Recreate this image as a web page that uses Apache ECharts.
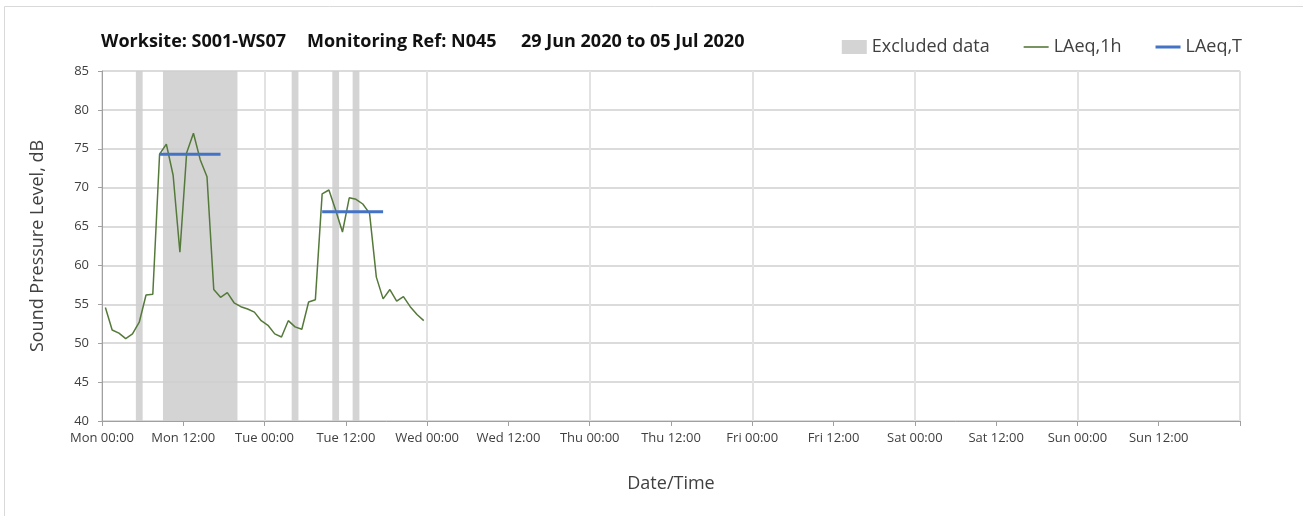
<!DOCTYPE html>
<html>
<head>
<meta charset="utf-8">
<script src="https://cdn.jsdelivr.net/npm/echarts@6/dist/echarts.min.js"></script>
<style>
  html, body { margin: 0; padding: 0; background: #fff; }
  #chart { width: 1303px; height: 516px; }
</style>
</head>
<body>
<div id="chart"></div>
<script>
// hourly LAeq,1h values, one per hour starting Mon 00:00 (plotted mid-hour)
const laeq1h = [
  54.6, 51.7, 51.3, 50.6, 51.2, 52.7, 56.2, 56.3,
  74.3, 75.6, 71.6, 61.7, 74.5, 77.0, 73.6, 71.4,
  56.9, 55.9, 56.5, 55.2, 54.7, 54.4, 54.0, 52.9,
  52.3, 51.2, 50.8, 52.9, 52.1, 51.8, 55.3, 55.6,
  69.2, 69.7, 67.1, 64.3, 68.7, 68.5, 67.9, 66.7,
  58.5, 55.7, 56.9, 55.4, 56.0, 54.7, 53.7, 52.9
];

// LAeq,T periods (hours from Mon 00:00)
const ltFrom = [8.5, 32.5];
const ltTo = [17.5, 41.5];
const ltValue = [74.3, 66.9];

// excluded data periods (hours from Mon 00:00)
const exclFrom = [5, 9, 28, 34, 37];
const exclTo = [6, 20, 29, 35, 38];

const tickLabels = [
  "Mon 00:00", "Mon 12:00", "Tue 00:00", "Tue 12:00", "Wed 00:00", "Wed 12:00",
  "Thu 00:00", "Thu 12:00", "Fri 00:00", "Fri 12:00", "Sat 00:00", "Sat 12:00",
  "Sun 00:00", "Sun 12:00"
];

const font = "'Open Sans', 'DejaVu Sans', sans-serif";
const chart = echarts.init(document.getElementById("chart"));

const ltData = [];
ltFrom.forEach((f, i) => {
  if (i > 0) ltData.push([null, null]);
  ltData.push([f, ltValue[i]], [ltTo[i], ltValue[i]]);
});

// legend line icons: thin bar centred in a 25x14 box
const thinLine = "path://M0,0 M0,6.2 L25,6.2 L25,7.8 L0,7.8 Z M25,14";
const thickLine = "path://M0,0 M0,5.5 L25,5.5 L25,8.5 L0,8.5 Z M25,14";

const option = {
  animation: false,
  textStyle: { fontFamily: font },
  graphic: [{
    type: "rect",
    shape: { x: 4.5, y: 6.5, width: 1400, height: 600 },
    style: { fill: "none", stroke: "#d9d9d9", lineWidth: 1 },
    silent: true
  }],
  title: [
    { text: "Worksite: S001-WS07", left: 101, top: 33 },
    { text: "Monitoring Ref: N045", left: 307, top: 33 },
    { text: "29 Jun 2020 to 05 Jul 2020", left: 521, top: 33 }
  ].map(t => ({
    ...t,
    padding: 0,
    textStyle: { fontFamily: font, fontSize: 18, fontWeight: "bold", color: "#111" }
  })),
  legend: {
    right: 56,
    top: 33,
    itemWidth: 25,
    itemHeight: 14,
    itemGap: 34,
    textStyle: { fontFamily: font, fontSize: 18, color: "#404040" },
    data: [
      { name: "Excluded data", icon: "rect" },
      { name: "LAeq,1h", icon: thinLine },
      { name: "LAeq,T", icon: thickLine }
    ]
  },
  grid: { left: 102, right: 63, top: 71, bottom: 95 },
  xAxis: [
    {
      type: "value",
      min: 0,
      max: 168,
      interval: 12,
      z: 1,
      name: "Date/Time",
      nameLocation: "middle",
      nameGap: 54,
      nameTextStyle: { fontFamily: font, fontSize: 18, color: "#404040" },
      axisLine: { onZero: false, lineStyle: { color: "#a0a0a0", width: 1 } },
      axisTick: { show: true, length: 5, lineStyle: { color: "#a0a0a0" } },
      axisLabel: {
        margin: 11,
        fontSize: 13,
        color: "#404040",
        formatter: v => tickLabels[Math.round(v / 12)] || ""
      },
      splitLine: { show: false }
    },
    {
      type: "value",
      min: 0,
      max: 168,
      interval: 24,
      z: 1,
      position: "bottom",
      axisLine: { show: false },
      axisTick: { show: false },
      axisLabel: { show: false },
      splitLine: { show: true, lineStyle: { color: "#e2e2e2", width: 2 } }
    }
  ],
  yAxis: {
    type: "value",
    min: 40,
    max: 85,
    interval: 5,
    z: 1,
    name: "Sound Pressure Level, dB",
    nameLocation: "middle",
    nameGap: 55,
    nameTextStyle: { fontFamily: font, fontSize: 18, color: "#404040" },
    axisLine: { show: true, lineStyle: { color: "#a0a0a0", width: 1 } },
    axisTick: { show: true, length: 4, lineStyle: { color: "#a0a0a0" } },
    axisLabel: { margin: 13, fontSize: 13, color: "#404040" },
    splitLine: { lineStyle: { color: "#cfcfcf", width: 1.5 } }
  },
  series: [
    {
      name: "Excluded data",
      type: "line",
      z: 0,
      data: [],
      itemStyle: { color: "#d4d4d4" },
      lineStyle: { color: "#d4d4d4" },
      markArea: {
        silent: true,
        z: 0,
        itemStyle: { color: "#d4d4d4" },
        data: exclFrom.map((f, i) => [{ xAxis: f }, { xAxis: exclTo[i] }])
      }
    },
    {
      name: "LAeq,1h",
      type: "line",
      z: 3,
      symbol: "none",
      itemStyle: { color: "#55793a" },
      lineStyle: { color: "#55793a", width: 1.5 },
      data: laeq1h.map((v, i) => [i + 0.5, v])
    },
    {
      name: "LAeq,T",
      type: "line",
      z: 4,
      symbol: "none",
      connectNulls: false,
      itemStyle: { color: "#4472c4" },
      lineStyle: { color: "#4472c4", width: 3 },
      data: ltData
    }
  ]
};

chart.setOption(option);
</script>
</body>
</html>
